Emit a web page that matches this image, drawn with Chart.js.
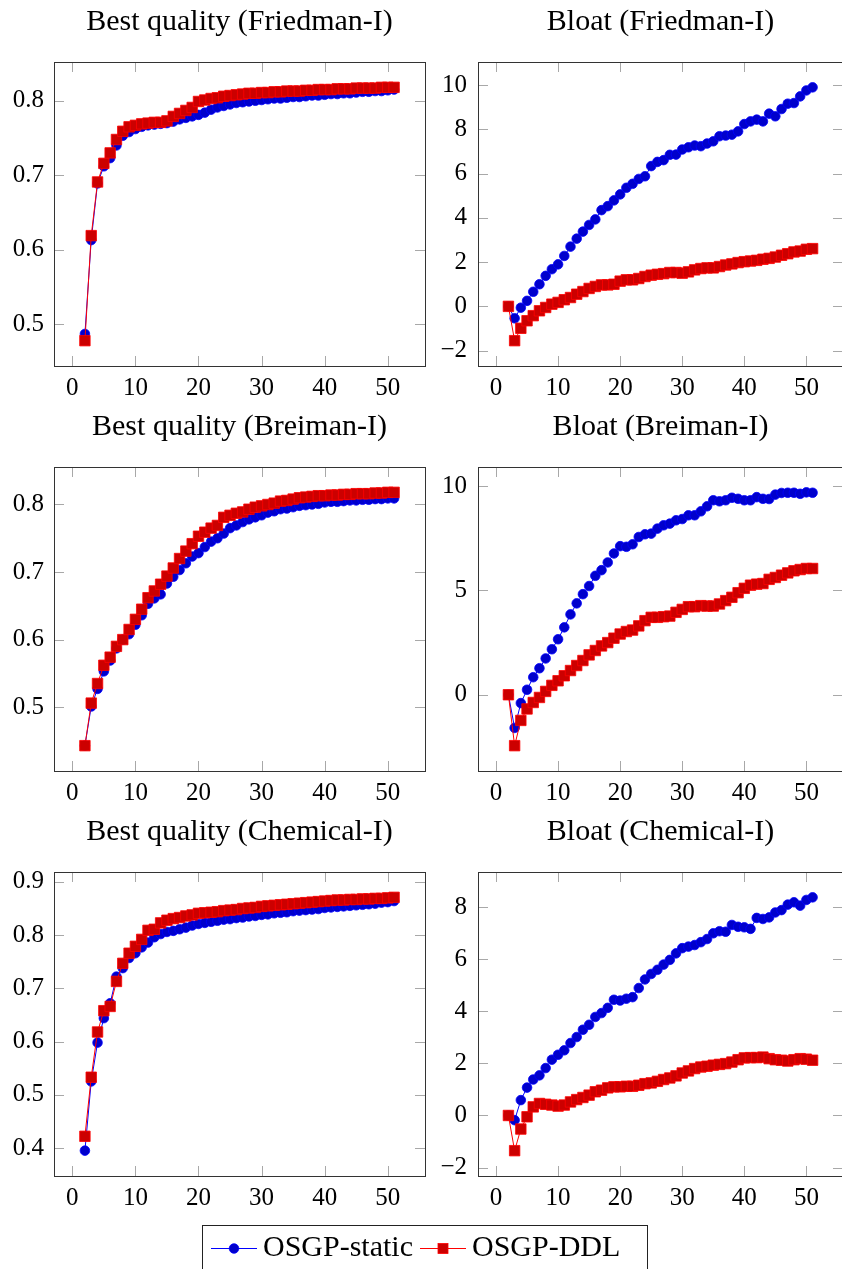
<!DOCTYPE html>
<html>
<head>
<meta charset="utf-8">
<script src="https://cdn.jsdelivr.net/npm/chart.js@4.4.1/dist/chart.umd.min.js"></script>
<style>
  html, body { margin: 0; padding: 0; background: #fff; }
  body { width: 842px; height: 1269px; position: relative; overflow: hidden; }
  canvas { position: absolute; }
  #legendBox { position: absolute; left: 202px; top: 1225px; width: 444px; height: 80px; border: 1px solid #222; }
</style>
</head>
<body>
<canvas id="c0" width="430" height="405" style="left:0;top:0"></canvas>
<canvas id="c1" width="413" height="405" style="left:430px;top:0"></canvas>
<canvas id="c2" width="430" height="405" style="left:0;top:405px"></canvas>
<canvas id="c3" width="413" height="405" style="left:430px;top:405px"></canvas>
<canvas id="c4" width="430" height="405" style="left:0;top:810px"></canvas>
<canvas id="c5" width="413" height="405" style="left:430px;top:810px"></canvas>
<div id="legendBox"></div>
<canvas id="lg" width="560" height="160" style="left:204px;top:1217px"></canvas>
<script>
// generations on the x axis
const GENS = [2, 3, 4, 5, 6, 7, 8, 9, 10, 11, 12, 13, 14, 15, 16, 17, 18, 19, 20, 21,
  22, 23, 24, 25, 26, 27, 28, 29, 30, 31, 32, 33, 34, 35, 36, 37, 38, 39, 40, 41,
  42, 43, 44, 45, 46, 47, 48, 49, 50, 51];

const SERIES = ['OSGP-static', 'OSGP-DDL'];

// Friedman-I
const FRIED_QUAL_STATIC = [0.487, 0.613, 0.689, 0.712, 0.723, 0.740, 0.753, 0.758, 0.762, 0.765,
  0.767, 0.768, 0.769, 0.770, 0.772, 0.775, 0.777, 0.779, 0.781, 0.784,
  0.788, 0.791, 0.793, 0.795, 0.797, 0.798, 0.799, 0.800, 0.801, 0.802,
  0.803, 0.803, 0.804, 0.805, 0.805, 0.806, 0.807, 0.807, 0.808, 0.809,
  0.809, 0.810, 0.810, 0.811, 0.812, 0.812, 0.813, 0.813, 0.814, 0.815];
const FRIED_QUAL_DDL = [0.478, 0.619, 0.691, 0.716, 0.730, 0.748, 0.759, 0.765, 0.767, 0.769,
  0.770, 0.771, 0.771, 0.773, 0.779, 0.783, 0.787, 0.791, 0.799, 0.801,
  0.803, 0.804, 0.806, 0.807, 0.808, 0.809, 0.810, 0.810, 0.811, 0.811,
  0.812, 0.812, 0.813, 0.813, 0.813, 0.814, 0.814, 0.815, 0.815, 0.815,
  0.816, 0.816, 0.816, 0.817, 0.817, 0.817, 0.817, 0.818, 0.818, 0.818];
const FRIED_BLOAT_STATIC = [0, -0.54, -0.06, 0.25, 0.66, 1.0, 1.38, 1.68, 1.9, 2.28,
  2.7, 3.06, 3.38, 3.68, 3.93, 4.35, 4.53, 4.79, 5.06, 5.36,
  5.54, 5.76, 5.88, 6.34, 6.53, 6.61, 6.85, 6.86, 7.09, 7.19,
  7.27, 7.24, 7.36, 7.46, 7.69, 7.72, 7.76, 7.91, 8.24, 8.36,
  8.44, 8.36, 8.71, 8.59, 8.92, 9.16, 9.19, 9.49, 9.76, 9.9];
const FRIED_BLOAT_DDL = [0, -1.55, -0.99, -0.65, -0.42, -0.2, -0.05, 0.1, 0.18, 0.3,
  0.4, 0.55, 0.67, 0.81, 0.9, 0.97, 0.97, 1.0, 1.14, 1.2,
  1.2, 1.26, 1.35, 1.41, 1.45, 1.48, 1.53, 1.53, 1.5, 1.56,
  1.65, 1.71, 1.74, 1.74, 1.8, 1.87, 1.92, 1.98, 2.02, 2.05,
  2.08, 2.13, 2.17, 2.23, 2.31, 2.38, 2.46, 2.5, 2.58, 2.61];

// Breiman-I
const BREIMAN_QUAL_STATIC = [0.443, 0.501, 0.527, 0.553, 0.569, 0.587, 0.600, 0.608, 0.622, 0.636,
  0.653, 0.661, 0.667, 0.683, 0.693, 0.703, 0.713, 0.723, 0.728, 0.737,
  0.745, 0.750, 0.757, 0.765, 0.769, 0.774, 0.778, 0.781, 0.784, 0.788,
  0.790, 0.793, 0.794, 0.796, 0.798, 0.799, 0.800, 0.801, 0.803, 0.804,
  0.804, 0.805, 0.806, 0.806, 0.807, 0.807, 0.808, 0.808, 0.809, 0.809];
const BREIMAN_QUAL_DDL = [0.443, 0.506, 0.535, 0.562, 0.574, 0.590, 0.600, 0.615, 0.630, 0.645,
  0.662, 0.672, 0.682, 0.694, 0.706, 0.720, 0.731, 0.742, 0.753, 0.759,
  0.765, 0.769, 0.781, 0.784, 0.787, 0.789, 0.793, 0.796, 0.798, 0.800,
  0.802, 0.805, 0.806, 0.808, 0.810, 0.811, 0.812, 0.813, 0.813, 0.814,
  0.814, 0.815, 0.815, 0.816, 0.816, 0.816, 0.817, 0.817, 0.818, 0.818];
const BREIMAN_BLOAT_STATIC = [0, -1.59, -0.4, 0.24, 0.84, 1.27, 1.74, 2.18, 2.66, 3.23,
  3.85, 4.38, 4.82, 5.21, 5.7, 5.97, 6.34, 6.77, 7.12, 7.09,
  7.21, 7.56, 7.69, 7.72, 7.96, 8.12, 8.2, 8.36, 8.42, 8.6,
  8.6, 8.79, 9.03, 9.32, 9.27, 9.32, 9.44, 9.39, 9.32, 9.32,
  9.47, 9.39, 9.38, 9.59, 9.67, 9.68, 9.68, 9.63, 9.7, 9.68];
const BREIMAN_BLOAT_DDL = [0, -2.44, -1.23, -0.68, -0.37, -0.13, 0.16, 0.45, 0.67, 0.91,
  1.16, 1.4, 1.64, 1.91, 2.12, 2.34, 2.5, 2.71, 2.91, 3.03,
  3.1, 3.3, 3.55, 3.71, 3.71, 3.74, 3.77, 3.95, 4.09, 4.22,
  4.22, 4.27, 4.25, 4.25, 4.35, 4.51, 4.67, 4.89, 5.1, 5.25,
  5.3, 5.33, 5.53, 5.62, 5.73, 5.84, 5.94, 6.0, 6.05, 6.05];

// Chemical-I
const CHEM_QUAL_STATIC = [0.395, 0.525, 0.598, 0.644, 0.672, 0.722, 0.738, 0.757, 0.766, 0.777,
  0.786, 0.796, 0.802, 0.806, 0.808, 0.811, 0.814, 0.818, 0.821, 0.823,
  0.825, 0.827, 0.829, 0.830, 0.832, 0.833, 0.835, 0.836, 0.838, 0.839,
  0.841, 0.842, 0.843, 0.845, 0.846, 0.847, 0.848, 0.849, 0.851, 0.852,
  0.853, 0.854, 0.855, 0.856, 0.857, 0.858, 0.859, 0.861, 0.862, 0.864];
const CHEM_QUAL_DDL = [0.422, 0.533, 0.618, 0.658, 0.666, 0.713, 0.747, 0.766, 0.779, 0.792,
  0.809, 0.811, 0.823, 0.828, 0.831, 0.833, 0.836, 0.838, 0.841, 0.842,
  0.843, 0.844, 0.846, 0.847, 0.848, 0.850, 0.851, 0.852, 0.854, 0.855,
  0.856, 0.857, 0.858, 0.859, 0.860, 0.861, 0.862, 0.863, 0.864, 0.865,
  0.866, 0.866, 0.867, 0.867, 0.868, 0.868, 0.869, 0.869, 0.870, 0.871];
const CHEM_BLOAT_STATIC = [0, -0.18, 0.59, 1.07, 1.38, 1.54, 1.82, 2.14, 2.33, 2.5,
  2.78, 3.01, 3.29, 3.48, 3.78, 3.93, 4.13, 4.44, 4.41, 4.48,
  4.54, 4.89, 5.22, 5.43, 5.59, 5.79, 5.97, 6.22, 6.42, 6.48,
  6.54, 6.65, 6.77, 6.99, 7.07, 7.05, 7.31, 7.24, 7.22, 7.16,
  7.58, 7.54, 7.6, 7.79, 7.88, 8.09, 8.18, 8.05, 8.27, 8.37];
const CHEM_BLOAT_DDL = [0, -1.35, -0.52, -0.05, 0.33, 0.46, 0.43, 0.4, 0.36, 0.4,
  0.52, 0.61, 0.69, 0.78, 0.91, 0.97, 1.06, 1.1, 1.1, 1.12,
  1.12, 1.16, 1.22, 1.25, 1.31, 1.38, 1.44, 1.52, 1.63, 1.71,
  1.8, 1.86, 1.89, 1.93, 1.96, 1.99, 2.05, 2.14, 2.21, 2.22,
  2.22, 2.24, 2.18, 2.14, 2.12, 2.09, 2.14, 2.18, 2.16, 2.12];

// tick labels
const X_TICKS = [0, 10, 20, 30, 40, 50];
const FRIED_QUAL_TICKS = [0.5, 0.6, 0.7, 0.8];
const FRIED_BLOAT_TICKS = [-2, 0, 2, 4, 6, 8, 10];
const BREIMAN_QUAL_TICKS = [0.5, 0.6, 0.7, 0.8];
const BREIMAN_BLOAT_TICKS = [0, 5, 10];
const CHEM_QUAL_TICKS = [0.4, 0.5, 0.6, 0.7, 0.8, 0.9];
const CHEM_BLOAT_TICKS = [-2, 0, 2, 4, 6, 8];

const SERIF = '"Liberation Serif", "DejaVu Serif", serif';
const BLUE = 'rgb(0,0,255)', BLUE_FILL = 'rgb(0,0,204)';
const RED = 'rgb(255,0,0)', RED_FILL = 'rgb(204,0,0)';
const TICK_LEN = 10;

const fmt = v => (v < 0 ? '\u2212' + (-v) : String(v));

// pgfplots-like box with inward ticks on all four sides
const frameTicks = {
  id: 'frameTicks',
  beforeDatasetsDraw(chart) {
    const { ctx, chartArea: a, scales: { x, y } } = chart;
    ctx.save();
    ctx.strokeStyle = '#a8a8a8';
    ctx.lineWidth = 1;
    ctx.beginPath();
    x.ticks.forEach(t => {
      const px = Math.round(x.getPixelForValue(t.value)) + 0.5;
      ctx.moveTo(px, a.bottom); ctx.lineTo(px, a.bottom - TICK_LEN);
      ctx.moveTo(px, a.top); ctx.lineTo(px, a.top + TICK_LEN);
    });
    y.ticks.forEach(t => {
      const py = Math.round(y.getPixelForValue(t.value)) + 0.5;
      ctx.moveTo(a.left, py); ctx.lineTo(a.left + TICK_LEN, py);
      ctx.moveTo(a.right, py); ctx.lineTo(a.right - TICK_LEN, py);
    });
    ctx.stroke();
    ctx.strokeStyle = '#333';
    ctx.strokeRect(Math.round(a.left) + 0.5, Math.round(a.top) + 0.5,
      Math.round(a.width), Math.round(a.height));
    ctx.restore();
  }
};

function makePanel(id, title, staticVals, ddlVals, yTicks, yAxisWidth, padRight, yPad) {
  const all = staticVals.concat(ddlVals);
  const lo = Math.min(...all), hi = Math.max(...all);
  const ypad = (hi - lo) * 0.1;
  const xpad = (GENS[GENS.length - 1] - GENS[0]) * 0.1;
  new Chart(document.getElementById(id), {
    type: 'line',
    data: {
      datasets: [
        {
          label: SERIES[0],
          data: GENS.map((g, i) => ({ x: g, y: staticVals[i] })),
          borderColor: BLUE, borderWidth: 1,
          pointStyle: 'circle', pointRadius: 4.8, pointBorderWidth: 0.8,
          pointBackgroundColor: BLUE_FILL, pointBorderColor: BLUE,
          order: 1
        },
        {
          label: SERIES[1],
          data: GENS.map((g, i) => ({ x: g, y: ddlVals[i] })),
          borderColor: RED, borderWidth: 1,
          pointStyle: 'rect', pointRadius: 7.4, pointBorderWidth: 0.8,
          pointBackgroundColor: RED_FILL, pointBorderColor: RED,
          order: 0
        }
      ]
    },
    options: {
      responsive: false,
      animation: false,
      devicePixelRatio: 1,
      layout: { padding: { right: padRight }, autoPadding: false },
      plugins: {
        legend: { display: false },
        tooltip: { enabled: false },
        title: {
          display: true, text: title, fullSize: false, color: '#000',
          font: { family: SERIF, size: 30, weight: 'normal', lineHeight: 1.2 },
          padding: { top: 4, bottom: 22 }
        }
      },
      scales: {
        x: {
          type: 'linear',
          min: GENS[0] - xpad, max: GENS[GENS.length - 1] + xpad,
          grid: { display: false, drawTicks: false },
          border: { display: false },
          afterBuildTicks: s => { s.ticks = X_TICKS.map(v => ({ value: v })); },
          afterFit: s => { s.height = 39; },
          ticks: { color: '#000', font: { family: SERIF, size: 25 }, padding: 7,
                   autoSkip: false, maxRotation: 0, callback: fmt }
        },
        y: {
          type: 'linear',
          min: lo - ypad, max: hi + ypad,
          grid: { display: false, drawTicks: false },
          border: { display: false },
          afterBuildTicks: s => { s.ticks = yTicks.map(v => ({ value: v })); },
          afterFit: s => { s.width = yAxisWidth; },
          ticks: { color: '#000', font: { family: SERIF, size: 25 }, padding: yPad,
                   autoSkip: false, callback: fmt }
        }
      }
    },
    plugins: [frameTicks]
  });
}

makePanel('c0', 'Best quality (Friedman-I)', FRIED_QUAL_STATIC, FRIED_QUAL_DDL, FRIED_QUAL_TICKS, 54, 5, 10);
makePanel('c1', 'Bloat (Friedman-I)', FRIED_BLOAT_STATIC, FRIED_BLOAT_DDL, FRIED_BLOAT_TICKS, 48, 0, 11);
makePanel('c2', 'Best quality (Breiman-I)', BREIMAN_QUAL_STATIC, BREIMAN_QUAL_DDL, BREIMAN_QUAL_TICKS, 54, 5, 10);
makePanel('c3', 'Bloat (Breiman-I)', BREIMAN_BLOAT_STATIC, BREIMAN_BLOAT_DDL, BREIMAN_BLOAT_TICKS, 48, 0, 11);
makePanel('c4', 'Best quality (Chemical-I)', CHEM_QUAL_STATIC, CHEM_QUAL_DDL, CHEM_QUAL_TICKS, 54, 5, 10);
makePanel('c5', 'Bloat (Chemical-I)', CHEM_BLOAT_STATIC, CHEM_BLOAT_DDL, CHEM_BLOAT_TICKS, 48, 0, 11);

// legend swatches: short line with the series marker in the middle
function swatch(kind) {
  const c = document.createElement('canvas');
  c.width = 46; c.height = 14;
  const g = c.getContext('2d');
  g.strokeStyle = kind === 'circle' ? BLUE : RED;
  g.lineWidth = 1;
  g.beginPath(); g.moveTo(0, 7.5); g.lineTo(46, 7.5); g.stroke();
  g.lineWidth = 0.8;
  if (kind === 'circle') {
    g.fillStyle = BLUE_FILL;
    g.beginPath(); g.arc(23, 7.5, 4.8, 0, Math.PI * 2); g.fill(); g.stroke();
  } else {
    g.fillStyle = RED_FILL;
    g.fillRect(18, 2.5, 10, 10); g.strokeRect(18, 2.5, 10, 10);
  }
  return c;
}

const swatches = [swatch('circle'), swatch('rect')];

new Chart(document.getElementById('lg'), {
  type: 'line',
  data: { datasets: SERIES.map(s => ({ label: s, data: [] })) },
  options: {
    responsive: false,
    animation: false,
    devicePixelRatio: 1,
    layout: { autoPadding: false },
    scales: { x: { display: false }, y: { display: false } },
    plugins: {
      tooltip: { enabled: false },
      legend: {
        display: true, position: 'top', align: 'start',
        labels: {
          usePointStyle: true, pointStyleWidth: 28, padding: 16, color: '#000',
          font: { family: SERIF, size: 30 },
          generateLabels: () => SERIES.map((s, i) => ({
            text: s, pointStyle: swatches[i], fillStyle: 'rgba(0,0,0,0)',
            strokeStyle: 'rgba(0,0,0,0)', lineWidth: 0, hidden: false,
            datasetIndex: i, fontColor: '#000'
          }))
        }
      }
    }
  }
});
</script>
</body>
</html>
